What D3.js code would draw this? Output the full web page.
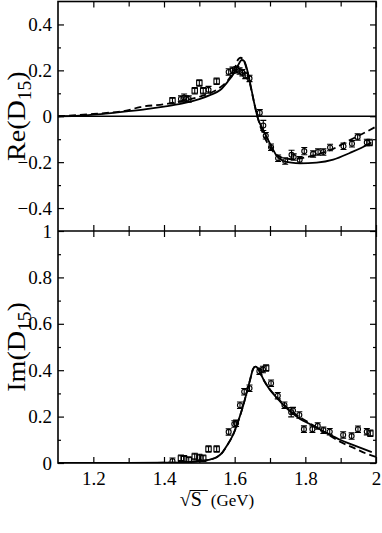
<!DOCTYPE html>
<html>
<head>
<meta charset="utf-8">
<script src="https://cdn.jsdelivr.net/npm/d3@7"></script>
<style>
  body { margin: 0; background: #fff; }
  svg { display: block; }
  text { font-family: "Liberation Serif", "Times New Roman", serif; fill: #000; }
</style>
</head>
<body>
<svg id="chart" width="382" height="533"></svg>
<script>
// ---- data ----
// x ticks
const xMajor = [1.2, 1.4, 1.6, 1.8, 2.0];
const xMinor = [1.3, 1.5, 1.7, 1.9];
const reMajor = [-0.4, -0.2, 0, 0.2, 0.4];
const reMinor = [-0.3, -0.1, 0.1, 0.3];
const imMajor = [0, 0.2, 0.4, 0.6, 0.8, 1];
const imMinor = [0.1, 0.3, 0.5, 0.7, 0.9];

// Re(D15) model curves [sqrt(s), value]
const reSolid = [
  [1.10, 0.0], [1.15, 0.002], [1.20, 0.007], [1.25, 0.014], [1.30, 0.022],
  [1.35, 0.031], [1.40, 0.042], [1.45, 0.055], [1.50, 0.075], [1.53, 0.092],
  [1.558, 0.113], [1.58, 0.15], [1.60, 0.193], [1.61, 0.223], [1.62, 0.245],
  [1.627, 0.24], [1.635, 0.205], [1.645, 0.135], [1.655, 0.06], [1.665, -0.005],
  [1.681, -0.061], [1.70, -0.119], [1.719, -0.172], [1.738, -0.195], [1.76, -0.202],
  [1.785, -0.205], [1.832, -0.202], [1.879, -0.189], [1.926, -0.16], [1.978, -0.122],
  [1.987, -0.114]
];
const reDashed = [
  [1.10, 0.0], [1.20, 0.01], [1.30, 0.027], [1.332, 0.04], [1.40, 0.052],
  [1.45, 0.066], [1.50, 0.085], [1.558, 0.125], [1.58, 0.155], [1.60, 0.208],
  [1.61, 0.248], [1.617, 0.255], [1.625, 0.245], [1.635, 0.2], [1.645, 0.13],
  [1.655, 0.06], [1.665, -0.005], [1.68, -0.075], [1.70, -0.135], [1.72, -0.17],
  [1.74, -0.183], [1.76, -0.187], [1.785, -0.184], [1.82, -0.172], [1.87, -0.148],
  [1.926, -0.104], [1.97, -0.07], [2.0, -0.045]
];

// Im(D15) model curves
const imSolid = [
  [1.10, 0.0], [1.30, 0.0], [1.40, 0.001], [1.45, 0.003], [1.50, 0.008],
  [1.53, 0.015], [1.549, 0.025], [1.565, 0.045], [1.577, 0.072], [1.596, 0.123],
  [1.61, 0.18], [1.624, 0.247], [1.643, 0.355], [1.652, 0.405], [1.658, 0.415],
  [1.665, 0.41], [1.672, 0.39], [1.685, 0.35], [1.70, 0.315], [1.72, 0.28],
  [1.738, 0.249], [1.76, 0.218], [1.785, 0.19], [1.81, 0.17], [1.832, 0.153],
  [1.86, 0.13], [1.898, 0.1], [1.94, 0.075], [1.988, 0.047]
];
const imDashed = [
  [1.10, 0.0], [1.30, 0.0], [1.40, 0.001], [1.45, 0.003], [1.50, 0.008],
  [1.53, 0.015], [1.549, 0.025], [1.565, 0.045], [1.577, 0.072], [1.596, 0.123],
  [1.61, 0.18], [1.624, 0.247], [1.643, 0.355], [1.652, 0.405], [1.658, 0.415],
  [1.665, 0.41], [1.672, 0.39], [1.685, 0.35], [1.70, 0.317], [1.72, 0.283],
  [1.738, 0.254], [1.76, 0.224], [1.785, 0.197], [1.81, 0.174], [1.832, 0.153],
  [1.86, 0.127], [1.898, 0.092], [1.94, 0.063], [1.97, 0.042], [2.0, 0.026]
];

// partial-wave points [sqrt(s), value, error]
const reCircles = [
  [1.448, 0.075, 0.008], [1.457, 0.082, 0.015], [1.462, 0.075, 0.008], [1.47, 0.075, 0.008],
  [1.526, 0.115, 0.015], [1.583, 0.193, 0.01], [1.594, 0.2, 0.01], [1.605, 0.203, 0.01],
  [1.614, 0.197, 0.01], [1.622, 0.19, 0.01], [1.63, 0.178, 0.01], [1.642, 0.165, 0.01],
  [1.671, 0.015, 0.012], [1.681, -0.04, 0.022], [1.688, -0.085, 0.012], [1.703, -0.135, 0.01],
  [1.723, -0.183, 0.01], [1.743, -0.195, 0.012], [1.761, -0.168, 0.02], [1.767, -0.178, 0.01],
  [1.784, -0.19, 0.01], [1.797, -0.152, 0.016], [1.822, -0.164, 0.012], [1.836, -0.156, 0.014],
  [1.851, -0.156, 0.014], [1.87, -0.136, 0.014], [1.908, -0.131, 0.01], [1.932, -0.12, 0.01],
  [1.948, -0.09, 0.01], [1.974, -0.114, 0.01]
];
const reSquares = [
  [1.424, 0.068, 0.006], [1.487, 0.111, 0.007], [1.5, 0.145, 0.007],
  [1.511, 0.111, 0.007], [1.549, 0.152, 0.007], [1.982, -0.114, 0.01]
];
const imCircles = [
  [1.424, 0.008, 0.004], [1.583, 0.134, 0.012], [1.599, 0.168, 0.012], [1.604, 0.171, 0.012],
  [1.615, 0.249, 0.012], [1.627, 0.307, 0.014], [1.642, 0.322, 0.014], [1.67, 0.396, 0.01],
  [1.68, 0.403, 0.01], [1.703, 0.344, 0.01], [1.722, 0.29, 0.01], [1.741, 0.249, 0.012],
  [1.76, 0.219, 0.02], [1.765, 0.226, 0.01], [1.783, 0.207, 0.01], [1.796, 0.146, 0.014],
  [1.82, 0.146, 0.014], [1.835, 0.16, 0.01], [1.851, 0.141, 0.01], [1.869, 0.135, 0.012],
  [1.907, 0.121, 0.01], [1.931, 0.116, 0.01], [1.949, 0.146, 0.01], [1.974, 0.135, 0.012]
];
const imSquares = [
  [1.448, 0.021, 0.006], [1.457, 0.018, 0.006], [1.47, 0.013, 0.006], [1.487, 0.028, 0.006],
  [1.5, 0.024, 0.006], [1.511, 0.021, 0.006], [1.526, 0.06, 0.006], [1.549, 0.06, 0.006],
  [1.689, 0.409, 0.01], [1.984, 0.128, 0.008]
];

// ---- layout ----
const svg = d3.select('#chart');
const left = 58, right = 376;
const topY = 1.5, midY = 231, botY = 463;
const serif = '"Liberation Serif", serif';

const x = d3.scaleLinear().domain([1.1, 2.0]).range([left, right]);
const yRe = d3.scaleLinear().domain([-0.5, 0.5]).range([midY, topY]);
const yIm = d3.scaleLinear().domain([0, 1]).range([botY, midY]);

function fmt(d) {
  return d === 0 ? '0' : d3.format('~g')(d);
}

function drawAxes(g, y, majors, minors, labelX) {
  // left
  g.append('g').attr('transform', `translate(${left},0)`)
    .call(d3.axisLeft(y).tickValues(majors).tickSize(-6).tickPadding(6).tickFormat(fmt));
  g.append('g').attr('transform', `translate(${left},0)`)
    .call(d3.axisLeft(y).tickValues(minors).tickSize(-3).tickFormat(''));
  // right
  g.append('g').attr('transform', `translate(${right},0)`)
    .call(d3.axisRight(y).tickValues(majors).tickSize(-6).tickFormat(''));
  g.append('g').attr('transform', `translate(${right},0)`)
    .call(d3.axisRight(y).tickValues(minors).tickSize(-3).tickFormat(''));
  const [y0, y1] = y.range();
  // bottom / top x ticks
  g.append('g').attr('transform', `translate(0,${y0})`)
    .call(d3.axisBottom(x).tickValues(xMajor).tickSize(-6).tickPadding(9)
      .tickFormat(labelX ? d => (d === 2 ? '2' : d3.format('.1f')(d)) : ''));
  g.append('g').attr('transform', `translate(0,${y0})`)
    .call(d3.axisBottom(x).tickValues(xMinor).tickSize(-5).tickFormat(''));
  g.append('g').attr('transform', `translate(0,${y1})`)
    .call(d3.axisTop(x).tickValues(xMajor).tickSize(-6).tickFormat(''));
  g.append('g').attr('transform', `translate(0,${y1})`)
    .call(d3.axisTop(x).tickValues(xMinor).tickSize(-5).tickFormat(''));
  g.selectAll('.domain').remove();
  g.selectAll('g').attr('font-family', serif).attr('font-size', 19);
  g.selectAll('.tick line').attr('stroke', '#000').attr('stroke-width', 1.2);
  g.selectAll('.tick text').attr('fill', '#000')
    .attr('font-family', serif).attr('font-size', 19)
    .style('font-family', serif).style('font-size', '19px');
}

function drawPanel(y, solid, dashed, circles, squares, majors, minors, labelX) {
  const g = svg.append('g');
  const [y0, y1] = y.range();
  const clipId = 'clip' + Math.round(y0);
  svg.append('clipPath').attr('id', clipId)
    .append('rect').attr('x', left).attr('y', y1).attr('width', right - left).attr('height', y0 - y1);

  const line = d3.line().x(d => x(d[0])).y(d => y(d[1])).curve(d3.curveMonotoneX);
  const plot = g.append('g').attr('clip-path', `url(#${clipId})`);

  plot.append('path').datum(solid).attr('d', line)
    .attr('fill', 'none').attr('stroke', '#000').attr('stroke-width', 1.8);
  plot.append('path').datum(dashed).attr('d', line)
    .attr('fill', 'none').attr('stroke', '#000').attr('stroke-width', 1.8)
    .attr('stroke-dasharray', '7,4');

  const pts = circles.map(d => ({ d, shape: 'c' })).concat(squares.map(d => ({ d, shape: 's' })));
  const mk = plot.selectAll('g.pt').data(pts).join('g').attr('class', 'pt')
    .attr('transform', p => `translate(${x(p.d[0])},${y(p.d[1])})`);
  mk.append('path')
    .attr('d', p => {
      const e = Math.max(y(p.d[1] - p.d[2]) - y(p.d[1]), 3.2);
      return `M0,${-e}V${e}M-3,${-e}H3M-3,${e}H3`;
    })
    .attr('stroke', '#000').attr('stroke-width', 1.1).attr('fill', 'none');
  mk.filter(p => p.shape === 'c').append('circle')
    .attr('r', 2.5).attr('fill', 'none').attr('stroke', '#000').attr('stroke-width', 1.1);
  mk.filter(p => p.shape === 's').append('rect')
    .attr('x', -2.7).attr('y', -2.4).attr('width', 5.4).attr('height', 4.8)
    .attr('fill', 'none').attr('stroke', '#000').attr('stroke-width', 1.1);

  drawAxes(g, y, majors, minors, labelX);
  return g;
}

const gRe = drawPanel(yRe, reSolid, reDashed, reCircles, reSquares, reMajor, reMinor, false);
// zero line in the Re panel
gRe.append('line').attr('x1', left).attr('x2', right)
  .attr('y1', yRe(0)).attr('y2', yRe(0))
  .attr('stroke', '#000').attr('stroke-width', 1.5);
drawPanel(yIm, imSolid, imDashed, imCircles, imSquares, imMajor, imMinor, true);

// frames
svg.append('rect').attr('x', left).attr('y', topY).attr('width', right - left).attr('height', botY - topY)
  .attr('fill', 'none').attr('stroke', '#000').attr('stroke-width', 1.6);
svg.append('line').attr('x1', left).attr('x2', right).attr('y1', midY).attr('y2', midY)
  .attr('stroke', '#000').attr('stroke-width', 1.6);

// y titles
function yTitle(label, cy) {
  const t = svg.append('text')
    .attr('transform', `translate(25,${cy}) rotate(-90) scale(1.08,1)`)
    .attr('text-anchor', 'middle').style('font-family', serif).style('font-size', '26px');
  t.append('tspan').text(label + '(D');
  t.append('tspan').style('font-size', '18px').attr('dy', 6).text('15');
  t.append('tspan').attr('dy', -6).text(')');
}
yTitle('Re', (topY + midY) / 2);
yTitle('Im', (midY + botY) / 2);

// x title: sqrt(S) (GeV)
const xt = svg.append('text').attr('x', 217).attr('y', 506)
  .attr('text-anchor', 'middle').style('font-family', serif).style('font-size', '20px');
xt.append('tspan').text('\u221AS');
xt.append('tspan').style('font-size', '17px').attr('dx', 9).text('(GeV)');
const sq = xt.select('tspan').node();
const bb = sq.getBBox();
svg.append('line').attr('x1', bb.x + 10).attr('x2', bb.x + bb.width + 6)
  .attr('y1', bb.y + 2.5).attr('y2', bb.y + 2.5).attr('stroke', '#000').attr('stroke-width', 1);
</script>
</body>
</html>
